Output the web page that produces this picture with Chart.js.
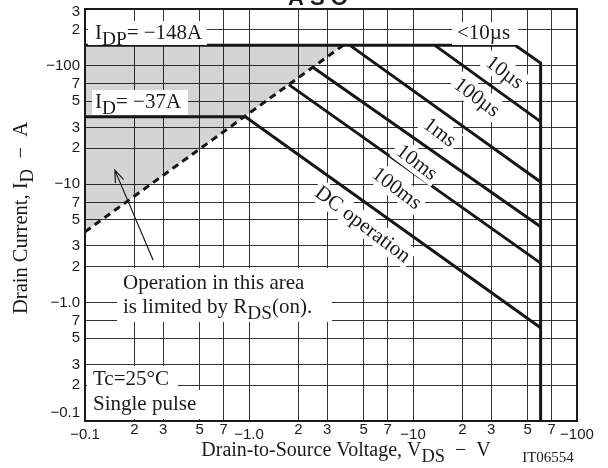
<!DOCTYPE html>
<html>
<head>
<meta charset="utf-8">
<script src="https://cdn.jsdelivr.net/npm/chart.js@4.4.1/dist/chart.umd.min.js"></script>
<style>
  html, body { margin: 0; padding: 0; background: #fff; }
  #wrap { width: 608px; height: 468px; }
</style>
</head>
<body>
<div id="wrap"><canvas id="soa" width="608" height="468"></canvas></div>
<script>
// Safe operating area: drain current vs drain-to-source voltage, log-log
const xTicks = [0.1, 0.2, 0.3, 0.5, 0.7, 1, 2, 3, 5, 7, 10, 20, 30, 50, 70, 100];
const xTickLabels = ['−0.1', '2', '3', '5', '7', '−1.0', '2', '3', '5', '7', '−10', '2', '3', '5', '7', '−100'];
const yTicks = [0.1, 0.2, 0.3, 0.5, 0.7, 1, 2, 3, 5, 7, 10, 20, 30, 50, 70, 100, 200, 300];
const yTickLabels = ['−0.1', '2', '3', '5', '7', '−1.0', '2', '3', '5', '7', '−10', '2', '3', '5', '7', '−100', '2', '3'];

// limit lines, |V| and |A|
const limit10usV = [0.1, 42, 60, 60];
const limit10usA = [148, 148, 105, 0.1];
const limit100usV = [13.6, 60];
const limit100usA = [148, 33.6];
const limit1msV = [4.13, 60];
const limit1msA = [148, 10.4];
const limit10msV = [2.45, 60];
const limit10msA = [96.8, 4.36];
const limit100msV = [1.75, 60];
const limit100msA = [69, 2.15];
const limitDcV = [0.1, 0.95, 60];
const limitDcA = [37, 37, 0.613];
const rdsOnV = [0.1, 3.75];
const rdsOnA = [3.95, 148];

const serif = '"Liberation Serif", "Times New Roman", serif';
const sans = '"Liberation Sans", Arial, sans-serif';

function toPoints(xs, ys) {
    return xs.map((x, i) => ({ x: x, y: ys[i] }));
}

function solid(xs, ys) {
    return {
        data: toPoints(xs, ys),
        borderColor: '#161616',
        borderWidth: 3,
        pointRadius: 0,
        fill: false,
        tension: 0,
        borderJoinStyle: 'miter'
    };
}

function partFont(p, size) {
    return (p[1] ? size * 0.92 : size) + 'px ' + serif;
}

function richWidth(ctx, parts, size) {
    let w = 0;
    parts.forEach(p => { ctx.font = partFont(p, size); w += ctx.measureText(p[0]).width; });
    return w;
}

// parts: [text, isSubscript]
function drawRich(ctx, parts, x, y, size, align) {
    const w = richWidth(ctx, parts, size);
    let cx = align === 'center' ? x - w / 2 : (align === 'right' ? x - w : x);
    ctx.textAlign = 'left';
    ctx.textBaseline = 'alphabetic';
    parts.forEach(p => {
        ctx.font = partFont(p, size);
        ctx.fillText(p[0], cx, p[1] ? y + size * 0.3 : y);
        cx += ctx.measureText(p[0]).width;
    });
}

function whiteBox(ctx, x0, y0, x1, y1) {
    ctx.fillStyle = '#fff';
    ctx.fillRect(x0, y0, x1 - x0, y1 - y0);
}

function rotatedLabel(ctx, text, cx, cy, deg, size) {
    ctx.save();
    ctx.translate(cx, cy);
    ctx.rotate(deg * Math.PI / 180);
    ctx.font = size + 'px ' + serif;
    const w = ctx.measureText(text).width;
    ctx.fillStyle = '#fff';
    ctx.fillRect(-w / 2 - 3, -size * 0.55, w + 6, size * 1.1);
    ctx.fillStyle = '#1a1a1a';
    ctx.textAlign = 'center';
    ctx.textBaseline = 'middle';
    ctx.fillText(text, 0, 1);
    ctx.restore();
}

const annotations = {
    id: 'soaAnnotations',
    afterDatasetsDraw(chart) {
        const ctx = chart.ctx;
        const area = chart.chartArea;
        const xs = chart.scales.x;
        const ys = chart.scales.y;
        ctx.save();

        // boxed labels inside the plot
        whiteBox(ctx, 88, 21, 207, 45);
        whiteBox(ctx, 452, 22, 518, 45);
        whiteBox(ctx, 92, 90, 188, 115);
        whiteBox(ctx, 117, 268, 332, 322);
        whiteBox(ctx, 87, 366, 178, 392);
        whiteBox(ctx, 87, 390, 200, 419);
        ctx.fillStyle = '#1a1a1a';
        drawRich(ctx, [['I', 0], ['DP', 1], ['= −148A', 0]], 95, 39, 21, 'left');
        drawRich(ctx, [['<10µs', 0]], 457, 39, 21, 'left');
        drawRich(ctx, [['I', 0], ['D', 1], ['= −37A', 0]], 95, 108, 21, 'left');
        drawRich(ctx, [['Operation in this area', 0]], 123, 289, 21, 'left');
        drawRich(ctx, [['is limited by R', 0], ['DS', 1], ['(on).', 0]], 123, 313, 21, 'left');
        drawRich(ctx, [['Tc=25°C', 0]], 93, 385, 21, 'left');
        drawRich(ctx, [['Single pulse', 0]], 93, 410, 21, 'left');

        rotatedLabel(ctx, '10µs', 505, 72, 37, 21);
        rotatedLabel(ctx, '100µs', 477, 97, 37, 21);
        rotatedLabel(ctx, '1ms', 440, 132, 37, 21);
        rotatedLabel(ctx, '10ms', 417, 162, 37, 21);
        rotatedLabel(ctx, '100ms', 397, 188, 37, 21);
        rotatedLabel(ctx, 'DC operation', 363, 224, 37, 21);

        // arrow pointing into the Rds(on) limited region
        const tail = { x: xs.getPixelForValue(0.26), y: ys.getPixelForValue(2.28) };
        const tip = { x: xs.getPixelForValue(0.152), y: ys.getPixelForValue(13.1) };
        const ang = Math.atan2(tip.y - tail.y, tip.x - tail.x);
        ctx.strokeStyle = '#1a1a1a';
        ctx.lineWidth = 1.2;
        ctx.beginPath();
        ctx.moveTo(tail.x, tail.y);
        ctx.lineTo(tip.x, tip.y);
        ctx.moveTo(tip.x - 13 * Math.cos(ang - 0.35), tip.y - 13 * Math.sin(ang - 0.35));
        ctx.lineTo(tip.x, tip.y);
        ctx.lineTo(tip.x - 13 * Math.cos(ang + 0.35), tip.y - 13 * Math.sin(ang + 0.35));
        ctx.stroke();

        // frame
        ctx.strokeStyle = '#1a1a1a';
        ctx.lineWidth = 2;
        ctx.strokeRect(area.left, area.top, area.right - area.left, area.bottom - area.top);

        // tick labels
        ctx.fillStyle = '#1a1a1a';
        ctx.font = '15px ' + sans;
        ctx.textAlign = 'right';
        ctx.textBaseline = 'middle';
        yTicks.forEach((v, i) => {
            const py = Math.min(Math.max(ys.getPixelForValue(v), 12), 413);
            ctx.fillText(yTickLabels[i], 80, py);
        });
        ctx.textAlign = 'center';
        xTicks.forEach((v, i) => {
            const decade = xTickLabels[i].charAt(0) === '−';
            ctx.fillText(xTickLabels[i], xs.getPixelForValue(v), decade ? 435 : 430);
        });

        // axis titles
        drawRich(ctx, [['Drain-to-Source Voltage, V', 0], ['DS', 1], ['  −  V', 0]], 346, 456, 20, 'center');
        ctx.save();
        ctx.translate(27, 218);
        ctx.rotate(-Math.PI / 2);
        drawRich(ctx, [['Drain Current, I', 0], ['D', 1], ['  −  A', 0]], 0, 0, 20.5, 'center');
        ctx.restore();

        ctx.font = '15px ' + serif;
        ctx.textAlign = 'center';
        ctx.textBaseline = 'alphabetic';
        ctx.fillText('IT06554', 548, 462);

        ctx.font = 'bold 22px ' + sans;
        ctx.fillText('A S O', 318, 5);
        ctx.restore();
    }
};

const gridStyle = { color: '#333', lineWidth: 1, drawTicks: false };

new Chart(document.getElementById('soa'), {
    type: 'line',
    data: {
        datasets: [
            solid(limit10usV, limit10usA),
            solid(limit100usV, limit100usA),
            solid(limit1msV, limit1msA),
            solid(limit10msV, limit10msA),
            solid(limit100msV, limit100msA),
            solid(limitDcV, limitDcA),
            {
                data: toPoints(rdsOnV, rdsOnA),
                borderColor: '#161616',
                borderWidth: 3,
                borderDash: [7, 5],
                pointRadius: 0,
                fill: false
            },
            {
                data: toPoints(rdsOnV, rdsOnA),
                borderWidth: 0,
                pointRadius: 0,
                backgroundColor: 'rgba(0,0,0,0.17)',
                fill: { value: 148 }
            }
        ]
    },
    options: {
        responsive: false,
        animation: false,
        devicePixelRatio: 1,
        layout: { padding: { left: 85, right: 31, top: 9, bottom: 47 } },
        plugins: { legend: { display: false }, tooltip: { enabled: false } },
        scales: {
            x: {
                type: 'logarithmic',
                min: 0.1,
                max: 100,
                grid: gridStyle,
                border: { display: false },
                ticks: { display: false },
                afterBuildTicks: s => { s.ticks = xTicks.map(v => ({ value: v })); },
                afterFit: s => { s.height = 0; }
            },
            y: {
                type: 'logarithmic',
                min: 0.1,
                max: 300,
                grid: gridStyle,
                border: { display: false },
                ticks: { display: false },
                afterBuildTicks: s => { s.ticks = yTicks.map(v => ({ value: v })); },
                afterFit: s => { s.width = 0; }
            }
        }
    },
    plugins: [annotations]
});
</script>
</body>
</html>
